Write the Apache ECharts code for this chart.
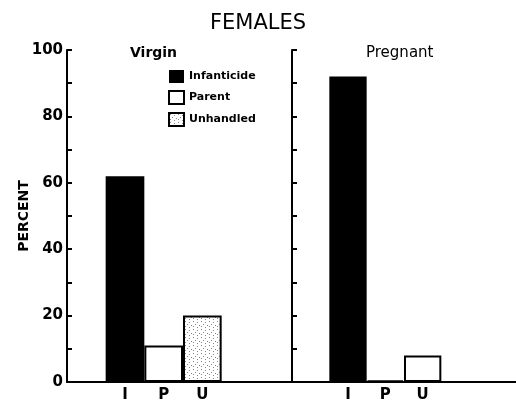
<!DOCTYPE html>
<html>
<head>
<meta charset="utf-8">
<script src="https://cdn.jsdelivr.net/npm/echarts@6/dist/echarts.min.js"></script>
<style>
  html, body { margin: 0; padding: 0; background: #fff; }
  #femalesChart { width: 516px; height: 403px; }
</style>
</head>
<body>
<div id="femalesChart"></div>
<script>
// data
const groupNames = ['Virgin', 'Pregnant'];
const treatNames = ['Infanticide', 'Parent', 'Unhandled'];
const treatCodes = ['I', 'P', 'U'];
const virginPct = [62, 11, 20];
const pregnantPct = [92, 0.5, 8];
const yTicks = [0, 20, 40, 60, 80, 100];

// one empty slot before the bars, two after
const xSlots = [''].concat(treatCodes, ['', '']);

// stipple tile for "Unhandled"
function makeStipple() {
  const c = document.createElement('canvas');
  c.width = 8;
  c.height = 8;
  const ctx = c.getContext('2d');
  ctx.fillStyle = '#fff';
  ctx.fillRect(0, 0, 8, 8);
  ctx.fillStyle = '#8a8a8a';
  [[1, 1], [5, 2], [3, 4], [7, 5], [1, 6], [5, 7]].forEach(p => ctx.fillRect(p[0], p[1], 1, 1));
  return c;
}
const stipple = makeStipple();

const fills = [
  { color: '#000', borderColor: '#000', borderWidth: 0 },
  { color: '#fff', borderColor: '#000', borderWidth: 2 },
  { color: { image: stipple, repeat: 'repeat' }, borderColor: '#000', borderWidth: 2 }
];
// the pregnant "U" bar prints as plain white in the scan
const plainWhite = { color: '#fff', borderColor: '#000', borderWidth: 2 };

const font = 'DejaVu Sans';
const groupValues = [virginPct, pregnantPct];

const series = [];
groupValues.forEach((vals, g) => {
  treatNames.forEach((name, k) => {
    const data = xSlots.map(() => '-');
    data[k + 1] = vals[k];
    series.push({
      name: name,
      type: 'bar',
      xAxisIndex: g,
      yAxisIndex: g,
      stack: 'grp' + g,
      barWidth: '100%',
      data: data,
      itemStyle: (g === 1 && k === 2) ? plainWhite : fills[k]
    });
  });
});

function xAxisCfg(idx) {
  return {
    type: 'category',
    gridIndex: idx,
    data: xSlots,
    axisLine: { lineStyle: { color: '#000', width: 2 } },
    axisTick: { show: false },
    axisLabel: {
      interval: 0,
      margin: 6,
      color: '#000',
      fontFamily: font,
      fontWeight: 'bold',
      fontSize: 15
    }
  };
}

function yAxisCfg(idx) {
  return {
    type: 'value',
    gridIndex: idx,
    min: 0,
    max: 100,
    interval: 10,
    name: idx === 0 ? 'PERCENT' : '',
    nameLocation: 'middle',
    nameGap: 36,
    nameMoveOverlap: false,
    nameRotate: 90,
    nameTextStyle: { color: '#000', fontFamily: font, fontWeight: 'bold', fontSize: 14 },
    splitLine: { show: false },
    axisLine: { show: true, lineStyle: { color: '#000', width: 2 } },
    axisTick: { show: true, inside: true, length: 5, lineStyle: { color: '#000', width: 2 } },
    axisLabel: {
      show: idx === 0,
      margin: 4,
      color: '#000',
      fontFamily: font,
      fontWeight: 'bold',
      fontSize: 15,
      formatter: v => (yTicks.indexOf(v) >= 0 ? v : '')
    }
  };
}

const myChart = echarts.init(document.getElementById('femalesChart'));
const chartOption = {
  animation: false,
  backgroundColor: '#fff',
  title: [
    {
      text: 'FEMALES',
      left: 'center',
      top: 8,
      textStyle: { color: '#000', fontFamily: font, fontWeight: 'normal', fontSize: 21 }
    },
    {
      text: groupNames[0],
      left: 125,
      top: 41,
      textStyle: { color: '#000', fontFamily: font, fontWeight: 'bold', fontSize: 14 }
    },
    {
      text: groupNames[1],
      left: 361,
      top: 41,
      textStyle: { color: '#000', fontFamily: font, fontWeight: 'normal', fontSize: 15 }
    }
  ],
  legend: {
    data: treatNames,
    orient: 'vertical',
    left: 163,
    top: 65,
    itemWidth: 15,
    itemHeight: 13,
    itemGap: 7,
    icon: 'rect',
    textStyle: { color: '#000', fontFamily: font, fontWeight: 'bold', fontSize: 11 }
  },
  grid: [
    { left: 67, top: 50, width: 232, height: 333 },
    { left: 292, top: 50, width: 238, height: 333 }
  ],
  xAxis: [xAxisCfg(0), xAxisCfg(1)],
  yAxis: [yAxisCfg(0), yAxisCfg(1)],
  series: series
};
myChart.setOption(chartOption);
</script>
</body>
</html>
